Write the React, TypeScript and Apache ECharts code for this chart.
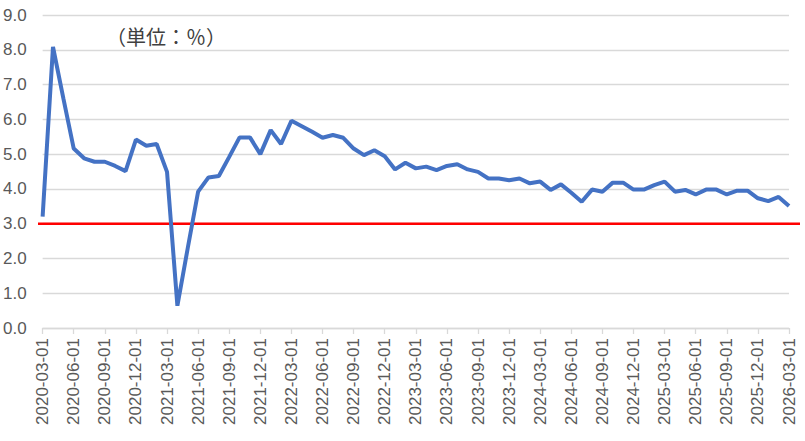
import * as echarts from 'echarts';
import { useEffect, useRef } from 'react';

// monthly categories 2020-03-01 .. 2026-03-01
const months: string[] = [];
for (let y = 2020, m = 3; y < 2026 || (y === 2026 && m <= 3); m++) {
  if (m > 12) {
    m = 1;
    y++;
  }
  months.push(`${y}-${String(m).padStart(2, '0')}-01`);
}

const rates = [
  3.2, 8.08, 6.6, 5.16, 4.88, 4.78, 4.78, 4.66, 4.51, 5.42, 5.24, 5.29,
  4.49, 0.64, 2.3, 3.92, 4.33, 4.37, 4.92, 5.48, 5.48, 5.0, 5.69, 5.29,
  5.96, 5.8, 5.64, 5.47, 5.55, 5.47, 5.16, 4.97, 5.11, 4.94, 4.56, 4.75,
  4.59, 4.64, 4.54, 4.66, 4.71, 4.56, 4.49, 4.3, 4.3, 4.25, 4.3, 4.16,
  4.21, 3.97, 4.13, 3.89, 3.63, 3.98, 3.92, 4.18, 4.18, 3.98, 3.98, 4.11,
  4.21, 3.92, 3.97, 3.84, 3.98, 3.98, 3.84, 3.95, 3.95, 3.73, 3.65, 3.77,
  3.51,
];

const targetLine = [3.0, 3.0];

const unitLabel = '（単位：％）';

const gridColor = '#d9d9d9';
const labelColor = '#595959';
const font = 'Liberation Sans, Arial, sans-serif';

export default function App() {
  const chartRef = useRef<HTMLDivElement>(null);

  useEffect(() => {
    if (!chartRef.current) return;
    const chart = echarts.init(chartRef.current, undefined, { renderer: 'svg' });

    chart.setOption({
      animation: false,
      backgroundColor: '#ffffff',
      title: {
        text: unitLabel,
        left: 101,
        top: 21,
        textStyle: {
          fontSize: 20,
          fontWeight: 'normal',
          color: '#404040',
          fontFamily: 'Noto Sans CJK JP, sans-serif',
        },
      },
      grid: [
        { left: 41, right: 16, top: 15, bottom: 113 },
        { left: 38, right: 5, top: 15, bottom: 113 },
      ],
      xAxis: [
        {
          type: 'category',
          gridIndex: 0,
          data: months,
          boundaryGap: false,
          axisLine: { lineStyle: { color: gridColor, width: 1.3 } },
          axisTick: {
            interval: 2,
            length: 6,
            lineStyle: { color: gridColor, width: 1.3 },
          },
          axisLabel: {
            interval: 2,
            rotate: 90,
            margin: 10,
            fontSize: 17,
            color: labelColor,
            fontFamily: font,
          },
        },
        {
          type: 'value',
          gridIndex: 1,
          min: 0,
          max: 1,
          show: false,
        },
      ],
      yAxis: [
        {
          type: 'value',
          gridIndex: 0,
          min: 0,
          max: 9,
          interval: 1,
          axisLine: { show: false },
          axisTick: { show: false },
          axisLabel: {
            margin: 16,
            fontSize: 17,
            color: labelColor,
            fontFamily: font,
            formatter: (v: number) => v.toFixed(1),
          },
          splitLine: { lineStyle: { color: gridColor, width: 1.3 } },
        },
        {
          type: 'value',
          gridIndex: 1,
          min: 0,
          max: 9,
          show: false,
        },
      ],
      series: [
        {
          type: 'line',
          xAxisIndex: 0,
          yAxisIndex: 0,
          data: rates,
          symbol: 'none',
          lineStyle: { color: '#4472c4', width: 4 },
          z: 3,
        },
        {
          type: 'line',
          xAxisIndex: 1,
          yAxisIndex: 1,
          data: targetLine.map((v, i) => [i, v]),
          symbol: 'none',
          lineStyle: { color: '#ff0000', width: 2.5 },
          z: 2,
        },
      ],
    });

    return () => {
      chart.dispose();
    };
  }, []);

  return (
    <div
      ref={chartRef}
      style={{ position: 'absolute', left: 0, top: 0, width: 805, height: 441 }}
    ></div>
  );
}
